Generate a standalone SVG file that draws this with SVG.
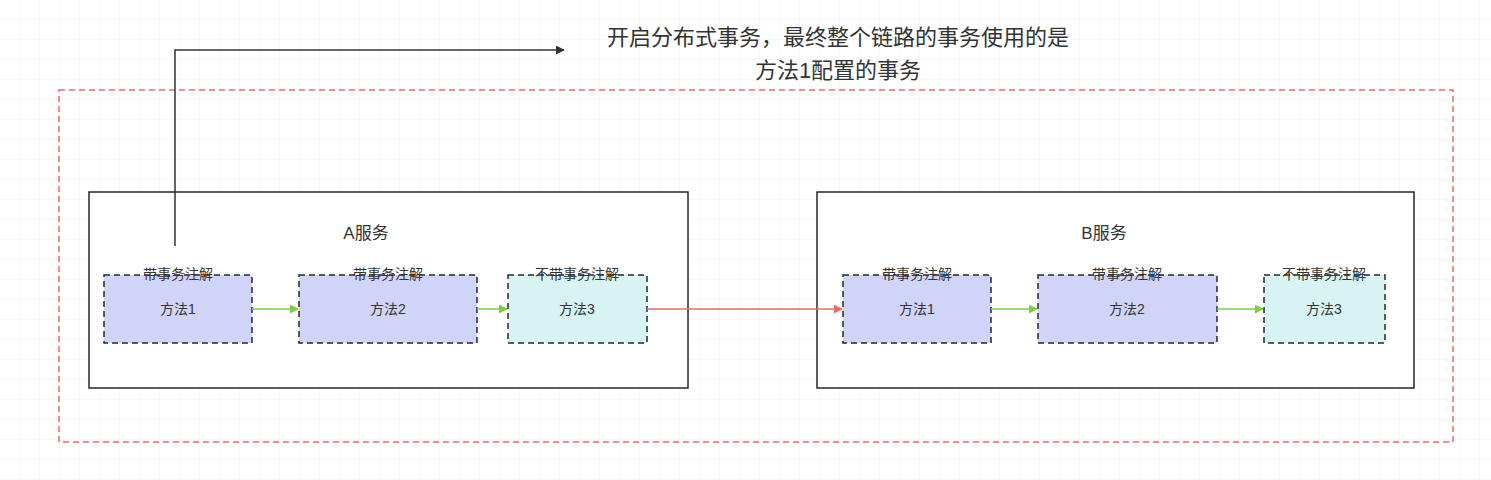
<svg xmlns="http://www.w3.org/2000/svg" width="1491" height="480" viewBox="0 0 1491 480">
<defs>
<pattern id="g" width="20" height="20" patternUnits="userSpaceOnUse"><path d="M20 0V20M0 20H20" fill="none" stroke="#efefef" stroke-width="1"/></pattern>
<marker id="ag" viewBox="0 0 10 10" refX="9" refY="5" markerWidth="6" markerHeight="6" orient="auto"><path d="M0 0L10 5L0 10z" fill="#7ccf3f"/></marker>
<marker id="ar" viewBox="0 0 10 10" refX="9" refY="5" markerWidth="6" markerHeight="6" orient="auto"><path d="M0 0L10 5L0 10z" fill="#ea6b66"/></marker>
<marker id="ak" viewBox="0 0 10 10" refX="9" refY="5" markerWidth="6" markerHeight="6" orient="auto"><path d="M0 0L10 5L0 10z" fill="#333"/></marker>
</defs>
<style>
text{font-family:"Liberation Sans","Noto Sans CJK SC",sans-serif;fill:#333;text-anchor:middle}
.svc{fill:#fff;stroke:#23272e;stroke-width:1.5}
.m{stroke:#23272e;stroke-width:1.5;stroke-dasharray:6 4}
.p{fill:#d1d4f9}.c{fill:#d8f4f2}
.t{font-size:14px}.l{font-size:14px}
.gl{stroke:#7ccf3f;stroke-width:1.5;fill:none;marker-end:url(#ag)}
</style>
<rect width="1491" height="480" fill="#fff"/>
<rect width="1491" height="480" fill="url(#g)"/>
<rect id="outer" x="59" y="90" width="1394" height="352" fill="none" stroke="#ea6b66" stroke-width="1.5" stroke-dasharray="6 4"/>
<g id="A"><rect class="svc" x="89" y="192" width="599" height="196"/><text x="366" y="239" font-size="17">A服务</text></g>
<g id="B"><rect class="svc" x="817" y="192" width="597" height="196"/><text x="1104" y="239" font-size="17">B服务</text></g>
<g id="A1"><rect class="m p" x="104" y="275" width="148" height="68"/><text class="t" x="178" y="314">方法1</text><text class="l" x="178" y="279">带事务注解</text></g>
<g id="A2"><rect class="m p" x="299" y="275" width="178" height="68"/><text class="t" x="388" y="314">方法2</text><text class="l" x="388" y="279">带事务注解</text></g>
<g id="A3"><rect class="m c" x="508" y="275" width="139" height="68"/><text class="t" x="577" y="314">方法3</text><text class="l" x="577" y="279">不带事务注解</text></g>
<g id="B1"><rect class="m p" x="843" y="275" width="148" height="68"/><text class="t" x="917" y="314">方法1</text><text class="l" x="917" y="279">带事务注解</text></g>
<g id="B2"><rect class="m p" x="1038" y="275" width="179" height="68"/><text class="t" x="1127" y="314">方法2</text><text class="l" x="1127" y="279">带事务注解</text></g>
<g id="B3"><rect class="m c" x="1264" y="275" width="121" height="68"/><text class="t" x="1324" y="314">方法3</text><text class="l" x="1324" y="279">不带事务注解</text></g>
<g id="note"><text x="838" y="45" font-size="22">开启分布式事务，最终整个链路的事务使用的是</text><text x="838" y="78" font-size="22">方法1配置的事务</text></g>
<g id="connectors">
<path class="gl" d="M252 309H298"/>
<path class="gl" d="M477 309H507"/>
<path class="gl" d="M991 309H1037"/>
<path class="gl" d="M1217 309H1263"/>
<path d="M647 309H842" stroke="#ea6b66" stroke-width="1.5" fill="none" marker-end="url(#ar)"/>
<path d="M175 246V50H564" stroke="#333" stroke-width="1.5" fill="none" marker-end="url(#ak)"/>
</g>
</svg>
